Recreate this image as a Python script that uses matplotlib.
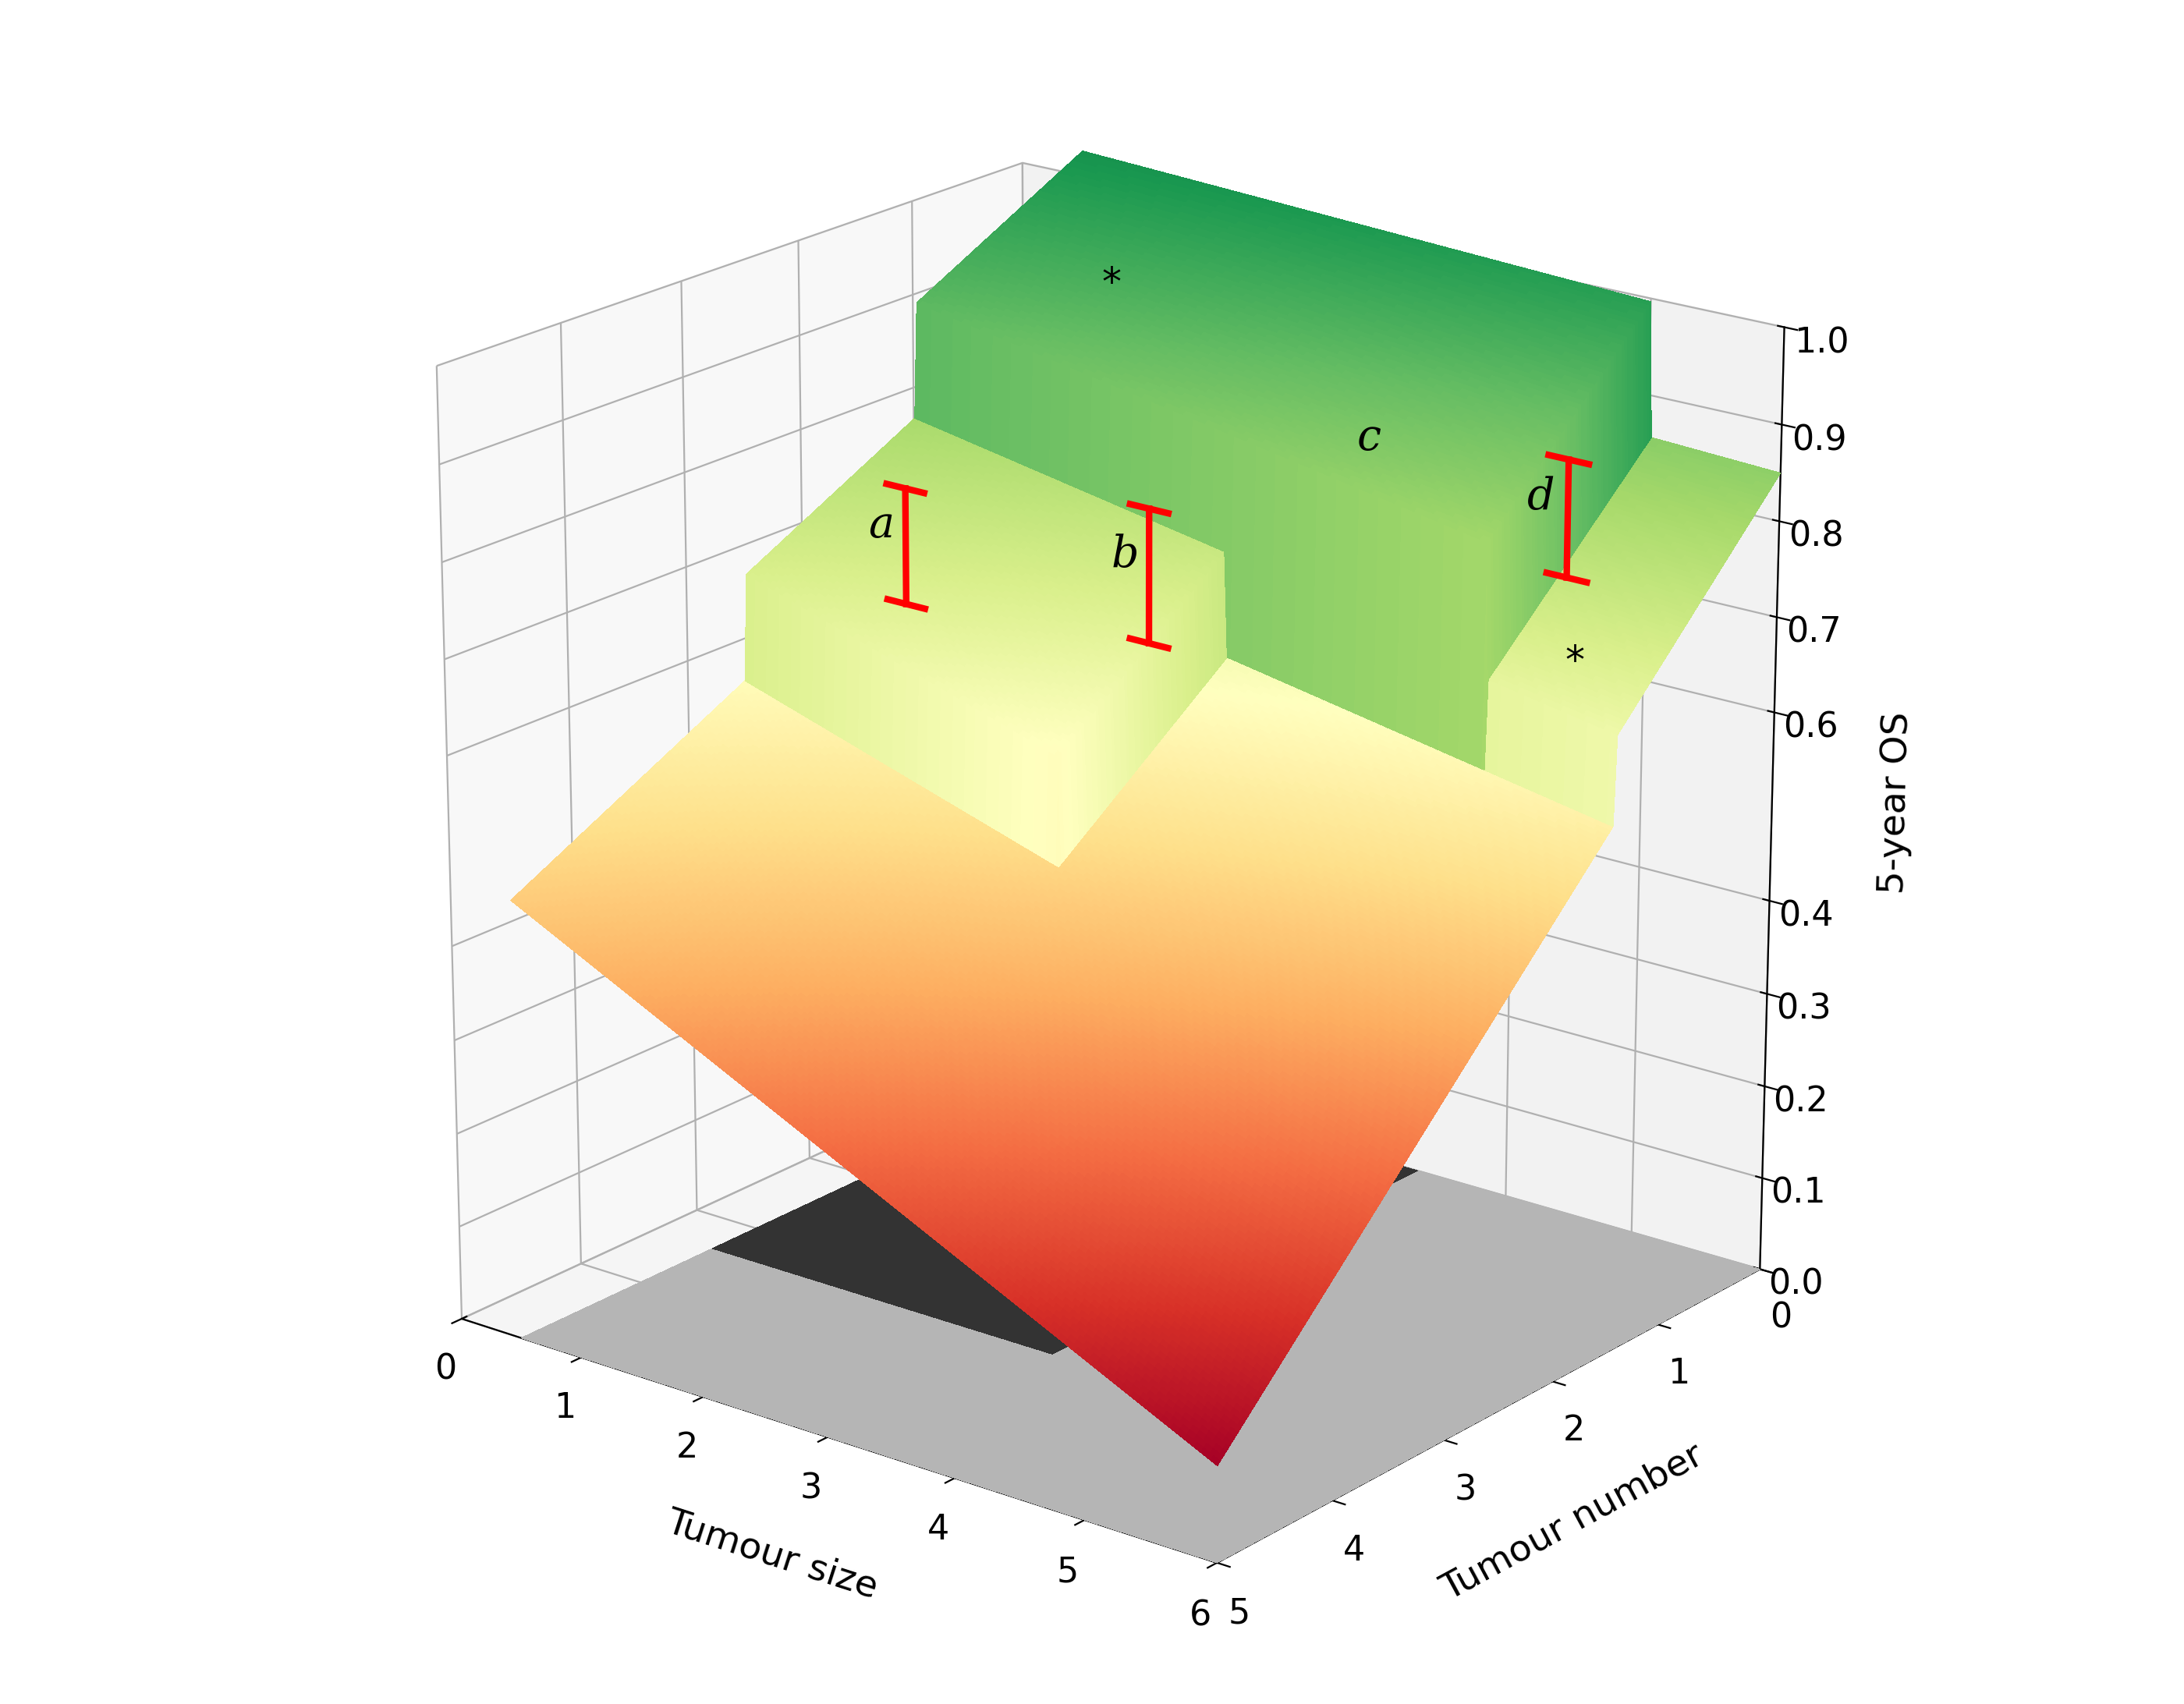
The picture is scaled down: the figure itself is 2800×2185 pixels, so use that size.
import numpy as np
import matplotlib.pyplot as plt
from matplotlib import cm, colors

# valores de OS en las esquinas de la superficie base (tamaño, número)
os_esquinas = {"s0_n0": 0.80, "s6_n0": 0.76, "s0_n5": 0.50, "s6_n5": 0.10}
# escalones (región criterio, incremento)
escalon_claro = 0.11    # tamaño<=3, número<=3
escalon_verde = 0.12    # número<=1.5, tamaño<=5
escalon_d = 0.09        # número<=1.5, 5<tamaño<=6
tam_ticks = [0, 1, 2, 3, 4, 5, 6]
num_ticks = [0, 1, 2, 3, 4, 5]
z_ticks = [0.0, 0.1, 0.2, 0.3, 0.4, 0.6, 0.7, 0.8, 0.9, 1.0]

x = np.linspace(0.5, 6, 221)
n = np.linspace(0, 5, 201)
X, N = np.meshgrid(x, n)
a0 = os_esquinas["s0_n0"]
ax_ = (os_esquinas["s6_n0"] - a0) / 6
an_ = (os_esquinas["s0_n5"] - a0) / 5
axn = (os_esquinas["s6_n5"] - os_esquinas["s6_n0"] - os_esquinas["s0_n5"] + a0) / 30
Z = a0 + ax_ * X + an_ * N + axn * X * N
Z = Z + np.where((X <= 3) & (N <= 3), escalon_claro, 0)
Z = Z + np.where((X <= 5) & (N <= 1.5), escalon_verde + escalon_claro * (X > 3), 0)
Z = Z + np.where((X > 5) & (N <= 1.5), escalon_d, 0)
Yp = 5 - N   # eje del número invertido (5 delante, 0 detrás)

fig = plt.figure(figsize=(14, 10.925), dpi=200)
ax = fig.add_subplot(111, projection='3d')
norm = colors.Normalize(vmin=0.1, vmax=1.12)
fc = cm.RdYlGn(norm(Z))

# suelo gris con parche oscuro
Xf, Nf = np.meshgrid(np.linspace(0.5, 6, 60), np.linspace(0, 5, 60))
Zf = np.zeros_like(Xf)
fcf = np.empty(Xf.shape + (4,))
fcf[:] = colors.to_rgba('#b5b5b5')
fcf[(Xf <= 3.2) & (Nf <= 3.3)] = colors.to_rgba('#333333')
ax.plot_surface(Xf, 5 - Nf, Zf, facecolors=fcf, shade=False, linewidth=0, antialiased=False)

ax.plot_surface(X, Yp, Z, facecolors=fc, shade=False, linewidth=0, antialiased=False,
                rstride=1, cstride=1)

# barras rojas y letras
for (xx, nn, z1, z2, lab) in [(1.8, 3.0, 0.72, 0.84, 'a'), (3.0, 2.2, 0.68, 0.82, 'b'),
                              (4.3, 1.5, 0.82, 0.94, 'c'), (5.6, 1.5, 0.8, 0.92, 'd')]:
    yy = 5 - nn
    if lab != 'c':
        ax.plot([xx, xx], [yy, yy], [z1, z2], color='red', lw=3, zorder=10)
        for zz in (z1, z2):
            ax.plot([xx - 0.15, xx + 0.15], [yy, yy], [zz, zz], color='red', lw=3, zorder=10)
    ax.text(xx - 0.3, yy, (z1 + z2) / 2, lab, fontsize=20, style='italic',
            family='DejaVu Serif', zorder=11)
ax.text(2.0, 5 - 1.5, 0.98, '*', fontsize=18, zorder=11)
ax.text(6.0, 5 - 2.0, 0.74, '*', fontsize=18, zorder=11)

ax.set_xlim(0, 6)
ax.set_ylim(0, 5)
ax.set_zlim(0, 1)
ax.set_xticks(tam_ticks)
ax.set_yticks(num_ticks)
ax.set_yticklabels([str(5 - v) for v in num_ticks])
ax.set_zticks(z_ticks)
ax.set_zticklabels([f"{v:.1f}" for v in z_ticks])
ax.tick_params(labelsize=16)
ax.set_xlabel('Tumour size', fontsize=17, labelpad=18)
ax.set_ylabel('Tumour number', fontsize=17, labelpad=18)
ax.set_zlabel('5-year OS', fontsize=17, labelpad=18)
ax.set_box_aspect((1.05, 1, 1.1), zoom=0.95)
ax.view_init(elev=20, azim=-52)
plt.subplots_adjust(left=0, right=1, bottom=0, top=1)
plt.savefig('out.png', dpi=200)
